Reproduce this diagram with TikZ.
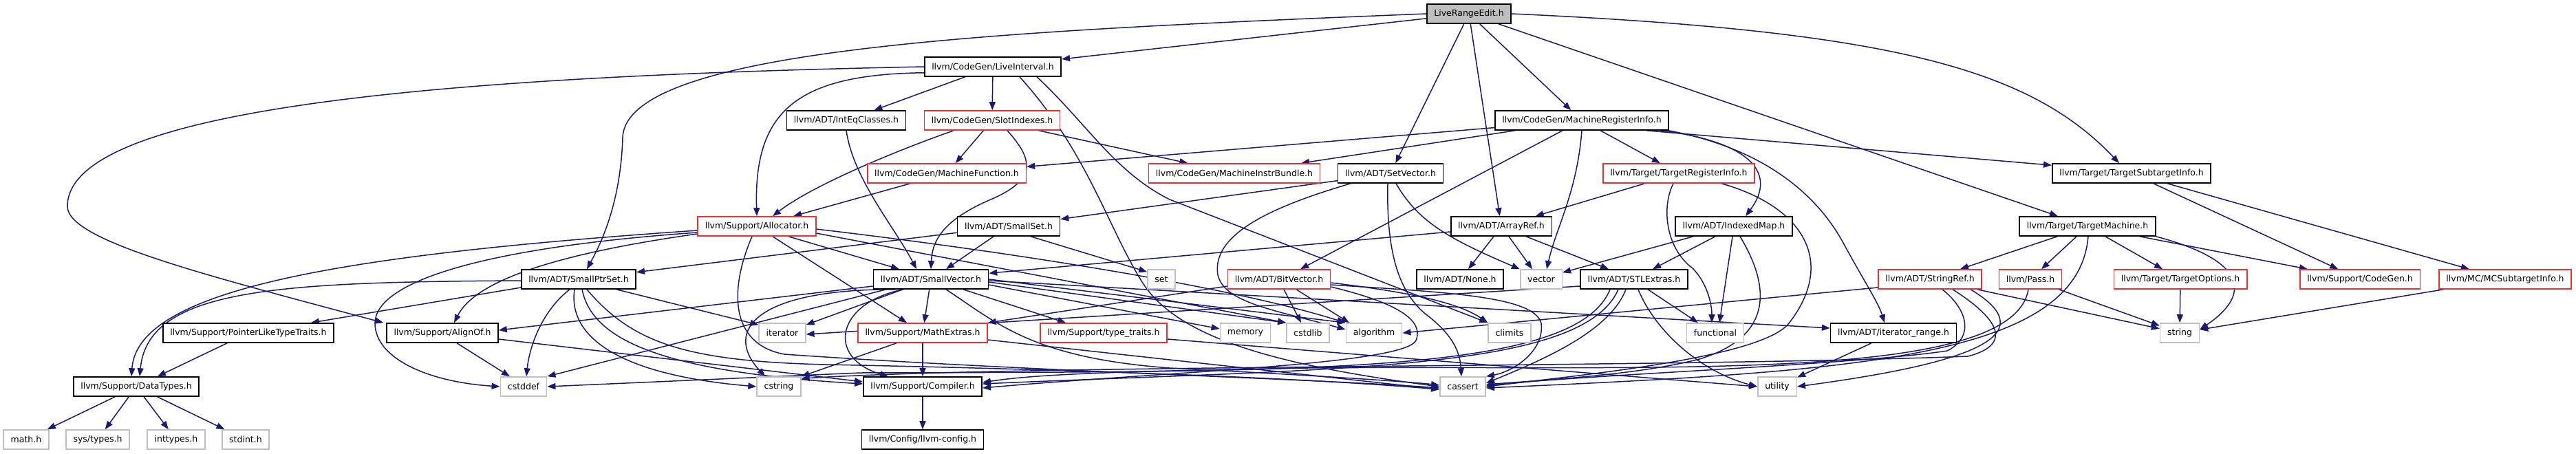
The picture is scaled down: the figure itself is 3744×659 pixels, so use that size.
\documentclass[tikz,border=0pt]{standalone}
\usepackage{fontspec}
\setmainfont{DejaVu Sans}
\usetikzlibrary{arrows.meta}
\definecolor{edgeblue}{HTML}{191970}
\definecolor{boxred}{HTML}{F03030}
\definecolor{boxgray}{HTML}{BFBFBF}
\pgfdeclarelayer{edges}
\pgfsetlayers{edges,main}

\begin{document}
\begin{tikzpicture}[x=1pt,y=-1pt,
  file/.style={draw,line width=1.6pt,minimum height=28pt,inner xsep=10.5pt,inner ysep=0pt,
    font=\fontsize{12.5}{15}\selectfont,fill=white},
  hdr/.style={file,draw=black},
  hdrred/.style={file,draw=boxred},
  syshdr/.style={file,draw=boxgray},
  rootbox/.style={file,draw=black,fill=boxgray},
  dep/.style={draw=edgeblue,line width=1.5pt,-{Triangle[length=12pt,width=9pt]}}]
  \useasboundingbox (0,0) rectangle (3744,659);

  % row 0 and 1
  \node[rootbox] (lre) at (2135,20) {LiveRangeEdit.h};
  \node[hdr] (li) at (1443,97) {llvm/CodeGen/LiveInterval.h};

  % row 2
  \node[hdr] (ieq) at (1230,175) {llvm/ADT/IntEqClasses.h};
  \node[hdrred] (slot) at (1442,175) {llvm/CodeGen/SlotIndexes.h};
  \node[hdr] (mri) at (2299,175) {llvm/CodeGen/MachineRegisterInfo.h};

  % row 3
  \node[hdrred] (mf) at (1376,252) {llvm/CodeGen/MachineFunction.h};
  \node[hdrred] (mib) at (1794,252) {llvm/CodeGen/MachineInstrBundle.h};
  \node[hdr] (setv) at (2021,252) {llvm/ADT/SetVector.h};
  \node[hdrred] (tri) at (2440,252) {llvm/Target/TargetRegisterInfo.h};
  \node[hdr] (tsi) at (3098,252) {llvm/Target/TargetSubtargetInfo.h};

  % row 4
  \node[hdrred] (alloc) at (1100,329) {llvm/Support/Allocator.h};
  \node[hdr] (sset) at (1466,329) {llvm/ADT/SmallSet.h};
  \node[hdr] (aref) at (2182,329) {llvm/ADT/ArrayRef.h};
  \node[hdr] (imap) at (2520,329) {llvm/ADT/IndexedMap.h};
  \node[hdr] (tm) at (3034,329) {llvm/Target/TargetMachine.h};

  % row 5
  \node[hdr] (spset) at (841,406) {llvm/ADT/SmallPtrSet.h};
  \node[hdr] (svec) at (1353,406) {llvm/ADT/SmallVector.h};
  \node[syshdr] (stdset) at (1688,406) {set};
  \node[hdrred] (bvec) at (1859,406) {llvm/ADT/BitVector.h};
  \node[hdr] (none) at (2122,406) {llvm/ADT/None.h};
  \node[syshdr] (stdvector) at (2240,406) {vector};
  \node[hdr] (stlx) at (2375,406) {llvm/ADT/STLExtras.h};
  \node[hdrred] (sref) at (2805,406) {llvm/ADT/StringRef.h};
  \node[hdrred] (pass) at (2951,406) {llvm/Pass.h};
  \node[hdrred] (topts) at (3169,406) {llvm/Target/TargetOptions.h};
  \node[hdrred] (cgen) at (3430,406) {llvm/Support/CodeGen.h};
  \node[hdrred] (mcsti) at (3641,406) {llvm/MC/MCSubtargetInfo.h};

  % row 6
  \node[hdr] (plt) at (361,484) {llvm/Support/PointerLikeTypeTraits.h};
  \node[hdr] (align) at (643,484) {llvm/Support/AlignOf.h};
  \node[syshdr] (stditer) at (1137,484) {iterator};
  \node[hdrred] (mathx) at (1341,484) {llvm/Support/MathExtras.h};
  \node[hdrred] (ttraits) at (1604,484) {llvm/Support/type\_traits.h};
  \node[syshdr] (stdmemory) at (1810,484) {memory};
  \node[syshdr] (stdcstdlib) at (1901,484) {cstdlib};
  \node[syshdr] (stdalgorithm) at (1997,484) {algorithm};
  \node[syshdr] (stdclimits) at (2194,484) {climits};
  \node[syshdr] (functional) at (2493,484) {functional};
  \node[hdr] (irange) at (2752,484) {llvm/ADT/iterator\_range.h};
  \node[syshdr] (string) at (3168,484) {string};

  % row 7
  \node[hdr] (dtypes) at (198,562) {llvm/Support/DataTypes.h};
  \node[syshdr] (cstddef) at (761,562) {cstddef};
  \node[syshdr] (cstring) at (1132,562) {cstring};
  \node[hdr] (compiler) at (1341,562) {llvm/Support/Compiler.h};
  \node[syshdr] (cassert) at (2126,562) {cassert};
  \node[syshdr] (utility) at (2583,562) {utility};

  % row 8
  \node[syshdr] (mathh) at (38,639) {math.h};
  \node[syshdr] (systypes) at (142,639) {sys/types.h};
  \node[syshdr] (inttypes) at (256,639) {inttypes.h};
  \node[syshdr] (stdint) at (357,639) {stdint.h};
  \node[hdr] (config) at (1341,639) {llvm/Config/llvm-config.h};

  \begin{pgfonlayer}{edges}
  % LiveRangeEdit.h
  \draw[dep] (lre) -- (li);
  \draw[dep] (lre.west) .. controls (1450,45) and (910,70) .. (905,200) .. controls (902,300) and (870,360) .. ([xshift=12pt]spset.north);
  \draw[dep] (lre) -- (setv);
  \draw[dep] (lre) -- (aref);
  \draw[dep] (lre) -- (mri);
  \draw[dep] (lre) -- (tm);
  \draw[dep] (lre.east) .. controls (2750,45) and (2950,100) .. ([xshift=-18pt]tsi.north);

  % LiveInterval.h
  \draw[dep] (li) -- (ieq);
  \draw[dep] (li) -- (slot);
  \draw[dep] (li.185) .. controls (1160,108) and (1095,160) .. (alloc.north);
  \draw[dep] (li.west) .. controls (700,110) and (98,150) .. (98,300) .. controls (98,350) and (300,400) .. ([xshift=-4pt]align.north west);
  \draw[dep] ([xshift=39pt]li.south) .. controls (1580,220) and (1610,330) .. (1660,410) .. controls (1710,490) and (1850,530) .. (cassert.west);
  \draw[dep] ([xshift=64pt]li.south) .. controls (1580,180) and (1620,250) .. (1700,290) -- (stdclimits.north west);

  % SlotIndexes.h, IntEqClasses.h, MachineFunction.h
  \draw[dep] ([xshift=-56pt]slot.south) .. controls (1300,220) and (1180,270) .. ([xshift=23pt]alloc.north);
  \draw[dep] (slot) -- (mf);
  \draw[dep] (slot) -- (mib);
  \draw[dep] ([xshift=22pt]slot.south) .. controls (1500,230) and (1510,260) .. (1440,290) .. controls (1370,320) and (1355,350) .. (svec.north);
  \draw[dep] (ieq.south) .. controls (1240,260) and (1300,330) .. ([xshift=-21pt]svec.north);
  \draw[dep] (mf) -- (alloc);

  % MachineRegisterInfo.h
  \draw[dep] (mri) -- (mf);
  \draw[dep] (mri) -- (mib);
  \draw[dep] ([xshift=-28pt]mri.south) -- ([xshift=31pt]bvec.north);
  \draw[dep] (mri.south) .. controls (2292,280) and (2262,330) .. ([xshift=8pt]stdvector.north);
  \draw[dep] (mri) -- (tri);
  \draw[dep] ([xshift=94pt]mri.south) -- ([yshift=-3pt]tsi.north west);
  \draw[dep] ([xshift=114pt]mri.south) .. controls (2540,205) and (2585,250) .. ([xshift=17pt]imap.north);
  \draw[dep] ([xshift=126pt]mri.south) .. controls (2560,215) and (2640,280) .. (2680,355) .. controls (2710,410) and (2730,440) .. ([xshift=-13pt]irange.north);

  % TargetRegisterInfo.h
  \draw[dep] (tri) -- (aref);
  \draw[dep] ([xshift=-8pt]tri.south) .. controls (2415,300) and (2420,360) .. (2460,390) .. controls (2480,410) and (2488,440) .. ([xshift=-5pt]functional.north);
  \draw[dep] ([xshift=62pt]tri.south) .. controls (2620,300) and (2670,380) .. (2600,470) .. controls (2560,520) and (2300,545) .. (cassert.east);

  % IndexedMap.h
  \draw[dep] ([xshift=-59pt]imap.south) -- ([yshift=-5pt]stdvector.north east);
  \draw[dep] ([xshift=-27pt]imap.south) -- ([xshift=27pt]stlx.north);
  \draw[dep] ([xshift=-2pt]imap.south) -- ([xshift=6pt]functional.north);
  \draw[dep] ([xshift=9pt]imap.south) .. controls (2575,420) and (2575,490) .. (2470,522) .. controls (2380,545) and (2250,552) .. ([yshift=3pt]cassert.east);

  % ArrayRef.h
  \draw[dep] ([xshift=-11pt]aref.south) -- ([xshift=12pt]none.north);
  \draw[dep] ([xshift=11pt]aref.south) -- ([xshift=-13pt]stdvector.north);
  \draw[dep] ([xshift=36pt]aref.south) -- ([xshift=-37pt]stlx.north);
  \draw[dep] ([yshift=-8pt]aref.west) -- ([yshift=-6pt]svec.north east);

  % SetVector.h
  \draw[dep] (setv) -- (sset);
  \draw[dep] ([xshift=-58pt]setv.south) .. controls (1850,300) and (1760,340) .. (1770,400) .. controls (1780,440) and (1850,450) .. ([yshift=5pt]stdalgorithm.west);
  \draw[dep] ([xshift=-4pt]setv.south) .. controls (2015,360) and (2030,420) .. (2070,455) .. controls (2110,485) and (2122,510) .. ([xshift=-2pt]cassert.north);
  \draw[dep] ([xshift=8pt]setv.south) .. controls (2060,320) and (2100,345) .. (stdvector.north west);

  % SmallSet.h
  \draw[dep] (sset) -- (spset);
  \draw[dep] ([xshift=-22pt]sset.south) -- ([xshift=22pt]svec.north);
  \draw[dep] ([xshift=32pt]sset.south) -- ([yshift=-4pt]stdset.north west);

  % SmallPtrSet.h
  \draw[dep] ([yshift=-2pt]spset.west) .. controls (400,410) and (215,420) .. ([xshift=5pt]dtypes.north);
  \draw[dep] ([yshift=-12pt]spset.west) -- ([xshift=91pt]plt.north);
  \draw[dep] ([xshift=-13pt]spset.south) .. controls (790,450) and (770,500) .. ([xshift=4pt]cstddef.north);
  \draw[dep] ([xshift=-6pt]spset.south) .. controls (825,490) and (900,545) .. (cstring.west);
  \draw[dep] ([xshift=5pt]spset.south) .. controls (860,490) and (950,540) .. ([yshift=4pt]compiler.west);
  \draw[dep] ([xshift=12pt]spset.south) .. controls (920,500) and (1000,525) .. (1200,530) .. controls (1600,538) and (1900,550) .. ([yshift=-4pt]cassert.west);
  \draw[dep] ([xshift=55pt]spset.south) -- ([yshift=-3pt]stditer.north west);

  % AlignOf.h, PointerLikeTypeTraits.h, DataTypes.h
  \draw[dep] ([xshift=21pt]align.south) -- ([xshift=-20pt]cstddef.north);
  \draw[dep] ([yshift=-9pt]align.east) -- ([yshift=7pt]compiler.west);
  \draw[dep] (plt) -- (dtypes);
  \draw[dep] (dtypes) -- (mathh);
  \draw[dep] (dtypes) -- (systypes);
  \draw[dep] (dtypes) -- (inttypes);
  \draw[dep] (dtypes) -- (stdint);

  % Allocator.h
  \draw[dep] ([yshift=-6pt]alloc.west) .. controls (500,370) and (200,420) .. ([xshift=-7pt]dtypes.north);
  \draw[dep] ([yshift=-11pt]alloc.west) .. controls (800,370) and (690,410) .. ([xshift=17pt]align.north);
  \draw[dep] ([yshift=-9pt]alloc.west) .. controls (700,360) and (545,410) .. (545,470) .. controls (545,520) and (620,555) .. (cstddef.west);
  \draw[dep] ([xshift=-7pt]alloc.south) .. controls (1060,420) and (1060,500) .. (1140,515) .. controls (1500,540) and (1900,550) .. ([yshift=-2pt]cassert.west);
  \draw[dep] ([xshift=23pt]alloc.south) -- ([xshift=-23pt]mathx.north);
  \draw[dep] ([xshift=46pt]alloc.south) -- ([xshift=-46pt]svec.north);
  \draw[dep] ([yshift=-10pt]alloc.east) -- (stdcstdlib.north west);
  \draw[dep] ([yshift=-4pt]alloc.east) .. controls (1500,370) and (1800,420) .. (stdalgorithm.north west);

  % SmallVector.h
  \draw[dep] ([yshift=-10pt]svec.west) -- ([yshift=4pt]align.east);
  \draw[dep] ([xshift=19pt]svec.south west) -- (cstddef.north east);
  \draw[dep] ([xshift=-52pt]svec.south) .. controls (1100,420) and (1050,480) .. ([xshift=-20pt]cstring.north);
  \draw[dep] ([xshift=-41pt]svec.south) -- ([yshift=-3pt]stditer.north east);
  \draw[dep] ([xshift=-40pt]svec.south) .. controls (1215,440) and (1200,520) .. ([xshift=-50pt]compiler.north);
  \draw[dep] (svec) -- (mathx);
  \draw[dep] ([xshift=22pt]svec.south) .. controls (1450,470) and (1500,520) .. (1700,535) .. controls (1900,545) and (2050,555) .. ([yshift=2pt]cassert.west);
  \draw[dep] ([xshift=47pt]svec.south) -- ([xshift=-55pt]ttraits.north);
  \draw[dep] ([yshift=-8pt]svec.east) -- ([yshift=6pt]stdmemory.west);
  \draw[dep] ([yshift=-4pt]svec.east) -- (stdcstdlib.north west);
  \draw[dep] (svec.east) -- (stdalgorithm.north west);
  \draw[dep] ([yshift=-2pt]svec.east) -- ([yshift=7pt]irange.west);

  % MathExtras.h, type_traits.h, Compiler.h
  \draw[dep] (mathx) -- (compiler);
  \draw[dep] ([xshift=-38pt]mathx.south) -- (cstring.north east);
  \draw[dep] ([yshift=-10pt]mathx.east) -- ([yshift=-4pt]cassert.west);
  \draw[dep] ([yshift=-9pt]ttraits.east) -- (utility.west);
  \draw[dep] (compiler) -- (config);

  % BitVector.h
  \draw[dep] ([yshift=-10pt]bvec.west) -- (mathx.north east);
  \draw[dep] ([xshift=7pt]bvec.south) -- ([xshift=-10pt]stdcstdlib.north);
  \draw[dep] ([xshift=25pt]bvec.south) -- ([xshift=-36pt]stdalgorithm.north);
  \draw[dep] ([yshift=-5pt]bvec.east) .. controls (2050,425) and (2120,440) .. (stdclimits.north west);
  \draw[dep] ([yshift=-8pt]bvec.east) .. controls (2100,425) and (2230,430) .. (2240,470) .. controls (2245,510) and (2200,540) .. (cassert.north east);
  \draw[dep] ([yshift=-11pt]bvec.east) .. controls (2030,440) and (2070,465) .. (2058,495) .. controls (2040,530) and (1700,540) .. ([yshift=-2pt]compiler.east);

  % STLExtras.h
  \draw[dep] ([yshift=-10pt]stlx.west) -- ([yshift=-2pt]stditer.east);
  \draw[dep] ([xshift=-35pt]stlx.south) .. controls (2290,545) and (1900,540) .. (1250,542) -- (cstddef.east);
  \draw[dep] ([xshift=-23pt]stlx.south) .. controls (2300,540) and (1950,535) .. ([yshift=4pt]compiler.east);
  \draw[dep] ([xshift=-12pt]stlx.south) .. controls (2340,480) and (2250,520) .. ([yshift=5pt]cassert.east);
  \draw[dep] ([xshift=20pt]stlx.south) -- ([xshift=-25pt]functional.north);
  \draw[dep] ([xshift=6pt]stlx.south) .. controls (2405,480) and (2470,540) .. (utility.west);

  % StringRef.h, Pass.h
  \draw[dep] ([yshift=-12pt]sref.west) -- (stdalgorithm.east);
  \draw[dep] (sref) -- (string);
  \draw[dep] ([xshift=59pt]sref.south) .. controls (2980,490) and (2850,530) .. (utility.east);
  \draw[dep] ([xshift=18pt]sref.south) .. controls (2860,450) and (2870,490) .. (2830,510) .. controls (2700,530) and (2300,545) .. ([yshift=1pt]cassert.east);
  \draw[dep] ([xshift=33pt]sref.south) .. controls (2900,460) and (2930,500) .. (2860,518) .. controls (2400,535) and (1500,530) .. ([yshift=-3pt]cstring.north east);
  \draw[dep] (pass) -- (string);
  \draw[dep] ([xshift=-3pt]pass.south) .. controls (2925,560) and (2400,530) .. (1900,535) .. controls (1600,540) and (1500,545) .. ([yshift=6pt]compiler.east);

  % TargetMachine.h, TargetSubtargetInfo.h and the rest
  \draw[dep] (tm) -- (sref);
  \draw[dep] (tm) -- (pass);
  \draw[dep] (tm) -- (topts);
  \draw[dep] (tm) -- (cgen);
  \draw[dep] (tm.south east) .. controls (3270,380) and (3270,430) .. ([yshift=5pt]string.east);
  \draw[dep] ([xshift=1pt]tm.south) .. controls (3020,520) and (2700,540) .. ([yshift=-2pt]cassert.east);
  \draw[dep] (tsi) -- (cgen);
  \draw[dep] (tsi) -- (mcsti);
  \draw[dep] (topts) -- (string);
  \draw[dep] (mcsti) -- (string);
  \draw[dep] (irange) -- (utility);
  \end{pgfonlayer}
\end{tikzpicture}
\end{document}
